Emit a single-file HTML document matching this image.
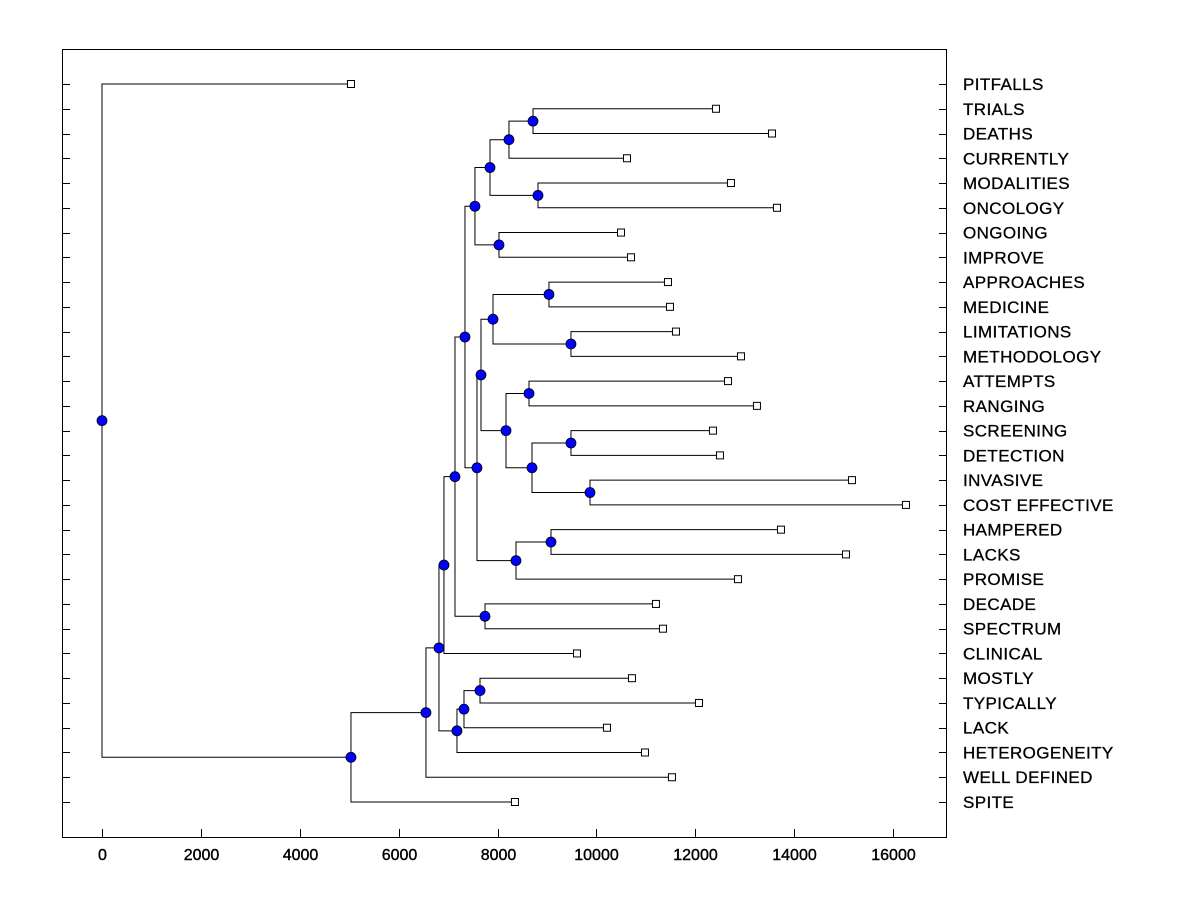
<!DOCTYPE html>
<html><head><meta charset="utf-8"><style>
html,body{margin:0;padding:0;background:#fff;}
svg text{font-family:"Liberation Sans",Arial,sans-serif;}
</style></head><body>
<svg id="chart" width="1200" height="900" xmlns="http://www.w3.org/2000/svg">
<rect x="62.5" y="49.5" width="884" height="788" fill="#fff" stroke="#000" stroke-width="1"/>
<g id="links"></g><g id="marks"></g><g id="axes"></g>
</svg>
<script>
const leafNames=["PITFALLS","TRIALS","DEATHS","CURRENTLY","MODALITIES","ONCOLOGY","ONGOING","IMPROVE","APPROACHES","MEDICINE","LIMITATIONS","METHODOLOGY","ATTEMPTS","RANGING","SCREENING","DETECTION","INVASIVE","COST EFFECTIVE","HAMPERED","LACKS","PROMISE","DECADE","SPECTRUM","CLINICAL","MOSTLY","TYPICALLY","LACK","HETEROGENEITY","WELL DEFINED","SPITE"];
const leafValues=[5036,12419,13552,10619,12722,13653,10498,10700,11448,11489,11610,12925,12662,13248,12358,12500,15170,16262,13734,15049,12864,11205,11347,9608,10720,12075,10214,10983,11529,8353];
const mergeLeft=["L1","N0","L4","N1","L6","N3","L8","L10","N6","L12","L14","L16","N10","N9","N8","L18","N15","N14","N5","L21","N18","N20","L24","N22","N23","N21","N25","N26","L0"];
const mergeRight=["L2","L3","L5","N2","L7","N4","L9","L11","N7","L13","L15","L17","N11","N12","N13","L19","L20","N16","N17","L22","N19","L23","L25","L26","L27","N24","L28","L29","N27"];
const mergeHeights=[8718,8232,8819,7848,8030,7544,9041,9486,7909,8637,9486,9871,8698,8172,7666,9082,8374,7585,7342,7747,7140,6917,7646,7322,7180,6816,6553,5036,0];
const xTicks=[0,2000,4000,6000,8000,10000,12000,14000,16000];

const NS="http://www.w3.org/2000/svg";
const xScale=v=>102+v*(893-102)/16000;
const yRow=i=>84+i*(802-84)/29;
const links=document.getElementById('links'),marks=document.getElementById('marks'),axes=document.getElementById('axes');
function mk(tag,attrs,parent){const e=document.createElementNS(NS,tag);for(const k in attrs)e.setAttribute(k,attrs[k]);parent.appendChild(e);return e;}
const pos={};
leafNames.forEach((n,i)=>{pos['L'+i]={x:xScale(leafValues[i]),y:yRow(i)};});
mergeHeights.forEach((h,i)=>{
  const a=pos[mergeLeft[i]],b=pos[mergeRight[i]],x=xScale(h);
  pos['N'+i]={x:x,y:(a.y+b.y)/2};
  const p=mk('path',{d:`M${a.x},${a.y}H${x}V${b.y}H${b.x}`,fill:'none',stroke:'#000','stroke-width':1},links);
  
  
});
mergeHeights.forEach((h,i)=>{
  const c=mk('circle',{cx:pos['N'+i].x,cy:pos['N'+i].y,r:5,fill:'#0000ff',stroke:'#000','stroke-width':0.8},marks);
  
  
});
leafNames.forEach((n,i)=>{
  const p=pos['L'+i];
  const r=mk('rect',{x:p.x-3.5,y:p.y-3.5,width:7,height:7,fill:'#fff',stroke:'#000','stroke-width':1},marks);
  
  
  const y=Math.round(p.y)+0.5;
  const tl=mk('line',{x1:62,x2:70,y1:y,y2:y,stroke:'#000'},axes);
  
  
  const tr=mk('line',{x1:939,x2:947,y1:y,y2:y,stroke:'#000'},axes);
  
  
  const t=mk('text',{x:963,y:p.y+6,'font-size':17,'letter-spacing':0.4,fill:'#000',stroke:'#000','stroke-width':0.3},axes);
  t.textContent=n;
  
  
});
xTicks.forEach(v=>{
  const x=Math.round(xScale(v))+0.5;
  const l=mk('line',{x1:x,x2:x,y1:837,y2:829,stroke:'#000'},axes);
  
  
  const t=mk('text',{x:x,y:860,'font-size':16,'text-anchor':'middle',fill:'#000',stroke:'#000','stroke-width':0.4},axes);
  t.textContent=v;
  
  
});
</script>
</body></html>
